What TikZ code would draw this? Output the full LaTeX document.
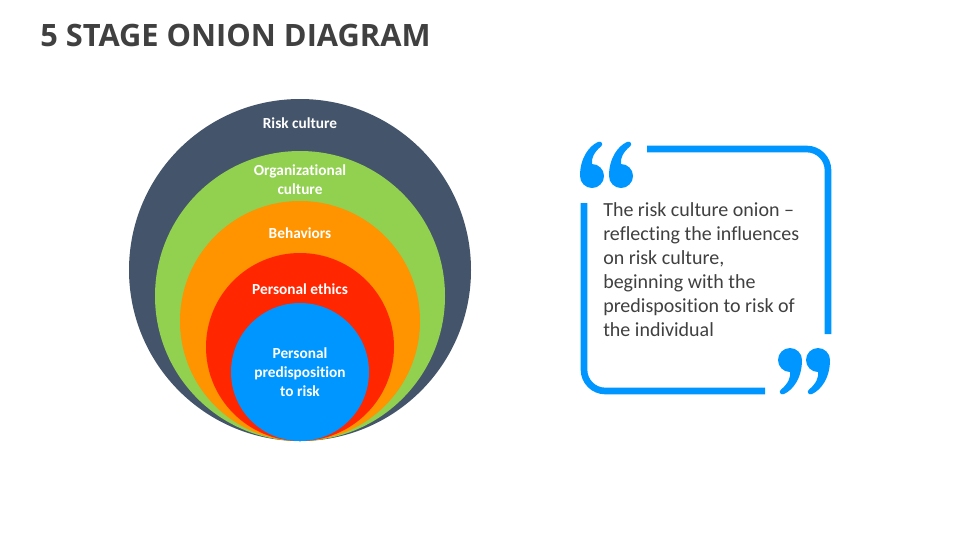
\documentclass[tikz,border=0pt]{standalone}
\usepackage{fontspec}
\setmainfont{Carlito}[Ligatures=NoCommon]
\newfontfamily\titlefont{Open Sans}
\begin{document}
\begin{tikzpicture}[x=0.75pt,y=-0.75pt,
  ring/.style={circle,draw=none,inner sep=0pt},
  lbl/.style={text=white,font=\bfseries\fontsize{11.5}{14.25}\selectfont,align=center,inner sep=0pt},
  quotebox/.style={draw=qblue,line width=5pt,rounded corners=16pt},
  qmk/.style={fill=qblue}]
\definecolor{cdark}{HTML}{44546A}
\definecolor{cgreen}{HTML}{92D050}
\definecolor{corange}{HTML}{FF9300}
\definecolor{cred}{HTML}{FF2600}
\definecolor{cblue}{HTML}{0096FF}
\definecolor{qblue}{HTML}{0096FF}
\definecolor{tgray}{HTML}{404040}
\useasboundingbox[fill=white] (0,0) rectangle (960,540);
% title
\node[anchor=base west,inner sep=0pt,text=tgray,font=\titlefont\bfseries\fontsize{23.1}{28}\selectfont] (title) at (40,46) {5 STAGE ONION DIAGRAM};
% onion
\node[ring,fill=cdark,minimum size=256.5pt] (c1) at (300,270) {};
\node[ring,fill=cgreen,minimum size=217.5pt] (c2) at (300,296) {};
\node[ring,fill=corange,minimum size=180pt] (c3) at (300,321) {};
\node[ring,fill=cred,minimum size=141pt] (c4) at (300,347) {};
\node[ring,fill=cblue,minimum size=103.5pt] (c5) at (300,372) {};
\node[lbl] (l1) at (300,123) {Risk culture};
\node[lbl] (l2) at (300,179.5) {Organizational\\culture};
\node[lbl] (l3) at (300,233) {Behaviors};
\node[lbl] (l4) at (300,289) {Personal ethics};
\node[lbl] (l5) at (300,372) {Personal\\predisposition\\to risk};
% quote box
\coordinate (qa) at (647,149);
\coordinate (qb) at (828,149);
\coordinate (qc) at (828,334);
\coordinate (qd) at (765,391);
\coordinate (qe) at (584,391);
\coordinate (qf) at (584,203);
\draw[quotebox] (qa) -- (qb) -- (qc);
\draw[quotebox] (qd) -- (qe) -- (qf);
% quote marks
\newcommand\qmarkshape{%
  \fill[qmk] (0,0) circle[radius=9pt];
  \fill[qmk] (-12,0) .. controls (-12,-18) and (-3,-30) .. (6,-34)
     .. controls (9,-35.5) and (12,-32) .. (9,-29.5)
     .. controls (2,-24) and (-1,-17) .. (0,-12) -- (0,0) -- cycle;}
\begin{scope}[shift={(592,176)}]\qmarkshape\end{scope}
\begin{scope}[shift={(621,176)}]\qmarkshape\end{scope}
\begin{scope}[shift={(790,360)},rotate=180]\qmarkshape\end{scope}
\begin{scope}[shift={(818,360)},rotate=180]\qmarkshape\end{scope}
\node[anchor=north west,inner sep=0pt,align=left,text=tgray,font=\fontsize{15}{18}\selectfont] (qtext) at (603,202) {The risk culture onion --\\reflecting the influences\\on risk culture,\\beginning with the\\predisposition to risk of\\the individual};
\end{tikzpicture}
\end{document}
